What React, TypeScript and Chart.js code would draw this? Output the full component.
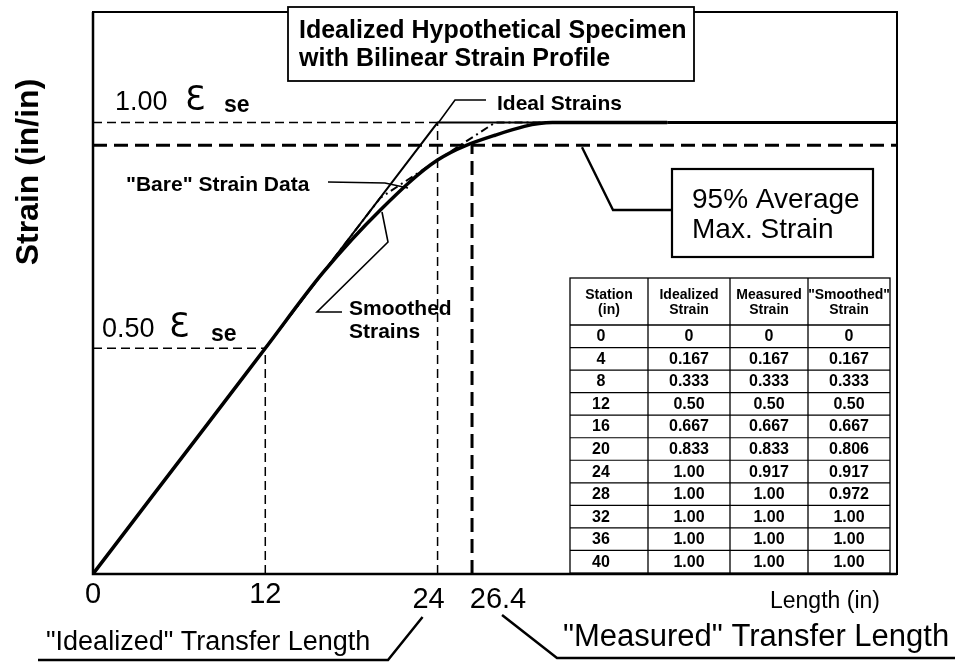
import React, { useEffect, useRef } from "react";
import { Chart, registerables } from "chart.js";

Chart.register(...registerables);

// ---- data (from the reference table) ----
const stations = [0, 4, 8, 12, 16, 20, 24, 28, 32, 36, 40];
const idealizedStrain = [0, 0.167, 0.333, 0.5, 0.667, 0.833, 1.0, 1.0, 1.0, 1.0, 1.0];
const measuredStrain = [0, 0.167, 0.333, 0.5, 0.667, 0.833, 0.917, 1.0, 1.0, 1.0, 1.0];
const smoothedStrain = [0, 0.167, 0.333, 0.5, 0.667, 0.806, 0.917, 0.972, 1.0, 1.0, 1.0];

const tableHeaders = [
  ["Station", "(in)"],
  ["Idealized", "Strain"],
  ["Measured", "Strain"],
  ['"Smoothed"', "Strain"],
];

// x-axis tick values / labels
const xTickValues = [0, 12, 24, 26.4];
const xTickLabels = ["0", "12", "24", "26.4"];

// reference levels
const HALF_LENGTH = 12;
const IDEAL_TRANSFER = 24;
const MEASURED_TRANSFER = 26.4;
const FULL_STRAIN = 1.0;
const HALF_STRAIN = 0.5;
const AVG_MAX_95 = 0.95;

const X_MAX = 56;
const Y_MAX = 1.245;

const FAM = '"Liberation Sans", Arial, Helvetica, sans-serif';
const EPS_FONT = '33px "DejaVu Sans", sans-serif';

function fmt(v: number): string {
  if (v === 0) return "0";
  return Math.round(v * 1000) % 10 === 0 ? v.toFixed(2) : v.toFixed(3);
}

const annotPlugin = {
  id: "annot",
  beforeDatasetsDraw(chart: any) {
    const { ctx, chartArea: a, scales } = chart;
    const px = (v: number) => scales.x.getPixelForValue(v);
    const py = (v: number) => scales.y.getPixelForValue(v);
    const seg = (x1: number, y1: number, x2: number, y2: number) => {
      ctx.beginPath();
      ctx.moveTo(x1, y1);
      ctx.lineTo(x2, y2);
      ctx.stroke();
    };
    ctx.save();
    ctx.strokeStyle = "#000";
    // thin dashed guides
    ctx.lineWidth = 1.5;
    ctx.setLineDash([9, 5]);
    seg(px(0), py(FULL_STRAIN), px(IDEAL_TRANSFER), py(FULL_STRAIN));
    seg(px(0), py(HALF_STRAIN), px(HALF_LENGTH), py(HALF_STRAIN));
    seg(px(HALF_LENGTH), py(0), px(HALF_LENGTH), py(HALF_STRAIN));
    seg(px(IDEAL_TRANSFER), py(0), px(IDEAL_TRANSFER), py(FULL_STRAIN));
    // thick dashed guides
    ctx.lineWidth = 3;
    ctx.setLineDash([14, 7]);
    seg(px(0), py(AVG_MAX_95), a.right, py(AVG_MAX_95));
    seg(px(MEASURED_TRANSFER), py(0), px(MEASURED_TRANSFER), py(AVG_MAX_95));
    // plateau continuation of the strain profile to the end of the axis
    ctx.setLineDash([]);
    ctx.lineWidth = 3;
    const last = stations.length - 1;
    seg(px(stations[last]), py(idealizedStrain[last]), a.right, py(idealizedStrain[last]));
    ctx.restore();
  },
  afterDatasetsDraw(chart: any) {
    const { ctx, chartArea: a, scales } = chart;
    const px = (v: number) => scales.x.getPixelForValue(v);
    const py = (v: number) => scales.y.getPixelForValue(v);
    const poly = (pts: number[][], w: number) => {
      ctx.lineWidth = w;
      ctx.beginPath();
      ctx.moveTo(pts[0][0], pts[0][1]);
      for (let i = 1; i < pts.length; i++) ctx.lineTo(pts[i][0], pts[i][1]);
      ctx.stroke();
    };
    const txt = (s: string, x: number, y: number, font: string, align: CanvasTextAlign = "left") => {
      ctx.font = font;
      ctx.textAlign = align;
      ctx.textBaseline = "alphabetic";
      ctx.fillText(s, x, y);
    };
    ctx.save();
    ctx.strokeStyle = "#000";
    ctx.fillStyle = "#000";
    ctx.setLineDash([]);

    // plot frame
    ctx.lineWidth = 2;
    ctx.strokeRect(a.left, a.top, a.right - a.left, a.bottom - a.top);
    ctx.lineWidth = 2.5;
    ctx.beginPath();
    ctx.moveTo(a.left, a.top);
    ctx.lineTo(a.left, a.bottom);
    ctx.lineTo(a.right, a.bottom);
    ctx.stroke();

    // title box
    ctx.fillStyle = "#fff";
    ctx.fillRect(288, 7, 406, 74);
    ctx.fillStyle = "#000";
    ctx.lineWidth = 1.8;
    ctx.strokeRect(288, 7, 406, 74);
    txt("Idealized Hypothetical Specimen", 299, 38, `bold 25px ${FAM}`);
    txt("with Bilinear Strain Profile", 299, 66, `bold 25px ${FAM}`);

    // y axis title
    ctx.save();
    ctx.translate(38, 172);
    ctx.rotate(-Math.PI / 2);
    txt("Strain (in/in)", 0, 0, `bold 32px ${FAM}`, "center");
    ctx.restore();

    // strain level labels
    const yFull = py(FULL_STRAIN);
    txt("1.00", 115, yFull - 13, `27px ${FAM}`);
    txt("\u0190", 185, yFull - 13, EPS_FONT);
    txt("se", 224, yFull - 11, `bold 23px ${FAM}`);
    const yHalf = py(HALF_STRAIN);
    txt("0.50", 102, yHalf - 11, `27px ${FAM}`);
    txt("\u0190", 169, yHalf - 11, EPS_FONT);
    txt("se", 211, yHalf - 7, `bold 23px ${FAM}`);

    // x tick labels
    const tickDy = [29, 29, 34, 34];
    const tickDx = [0, 0, -9, 26];
    xTickValues.forEach((v, i) => {
      txt(xTickLabels[i], px(v) + tickDx[i], a.bottom + tickDy[i], `29px ${FAM}`, "center");
    });
    txt("Length (in)", 770, a.bottom + 34, `23px ${FAM}`);

    // transfer length callouts
    const x24 = px(IDEAL_TRANSFER);
    const x264 = px(MEASURED_TRANSFER);
    txt('"Idealized" Transfer Length', 46, 650, `27px ${FAM}`);
    poly([[38, 660], [388, 660], [x24 - 15, 617]], 2.5);
    txt('"Measured" Transfer Length', 563, 646, `31px ${FAM}`);
    poly([[x264 + 30, 615], [557, 658], [955, 658]], 2.5);

    // Ideal Strains label
    txt("Ideal Strains", 497, 110, `bold 21px ${FAM}`);
    poly([[486, 100], [455, 100], [px(IDEAL_TRANSFER) + 1, py(FULL_STRAIN)]], 1.6);

    // Bare strain data label
    txt('"Bare" Strain Data', 126, 191, `bold 21px ${FAM}`);
    poly([[328, 182], [385, 183], [408, 188]], 1.6);

    // Smoothed strains label
    txt("Smoothed", 349, 315, `bold 21px ${FAM}`);
    txt("Strains", 349, 338, `bold 21px ${FAM}`);
    poly([[342, 312], [317, 312], [388, 242], [382, 212]], 1.6);

    // 95% box
    ctx.lineWidth = 2.2;
    ctx.fillStyle = "#fff";
    ctx.fillRect(672, 169, 201, 88);
    ctx.fillStyle = "#000";
    ctx.strokeRect(672, 169, 201, 88);
    txt("95% Average", 692, 208, `28px ${FAM}`);
    txt("Max. Strain", 692, 238, `28px ${FAM}`);
    poly([[672, 210], [613, 210], [582, py(AVG_MAX_95) + 2]], 2.4);

    // data table
    const cols = [570, 648, 730, 808, 890];
    const tTop = 278;
    const hBottom = 325;
    const tBottom = a.bottom - 1;
    const rowH = (tBottom - hBottom) / stations.length;
    ctx.fillStyle = "#fff";
    ctx.fillRect(cols[0], tTop, cols[4] - cols[0], tBottom - tTop);
    ctx.fillStyle = "#000";
    ctx.lineWidth = 1.3;
    ctx.strokeRect(cols[0], tTop, cols[4] - cols[0], tBottom - tTop);
    for (let c = 1; c < cols.length - 1; c++) {
      ctx.beginPath();
      ctx.moveTo(cols[c], tTop);
      ctx.lineTo(cols[c], tBottom);
      ctx.stroke();
    }
    for (let r = 0; r < stations.length; r++) {
      const yy = hBottom + r * rowH;
      ctx.lineWidth = r === 0 ? 1.6 : 1.2;
      ctx.beginPath();
      ctx.moveTo(cols[0], yy);
      ctx.lineTo(cols[4], yy);
      ctx.stroke();
    }
    tableHeaders.forEach((h, c) => {
      const cx = (cols[c] + cols[c + 1]) / 2;
      txt(h[0], cx, 299, `bold 14px ${FAM}`, "center");
      txt(h[1], cx, 314, `bold 14px ${FAM}`, "center");
    });
    stations.forEach((s, r) => {
      const yy = hBottom + r * rowH + rowH / 2 + 5;
      const vals = [String(s), fmt(idealizedStrain[r]), fmt(measuredStrain[r]), fmt(smoothedStrain[r])];
      vals.forEach((v, c) => {
        const cx = (cols[c] + cols[c + 1]) / 2;
        txt(v, c === 0 ? cx - 8 : cx, yy, `bold 16px ${FAM}`, "center");
      });
    });

    ctx.restore();
  },
};

export default function App() {
  const ref = useRef<HTMLCanvasElement | null>(null);
  useEffect(() => {
    if (!ref.current) return;
    const pts = (ys: number[]) => stations.map((x, i) => ({ x, y: ys[i] }));
    const chart = new Chart(ref.current, {
      type: "line",
      data: {
        datasets: [
          {
            label: "Ideal Strains",
            data: pts(idealizedStrain),
            borderColor: "#000",
            borderWidth: 2,
            pointRadius: 0,
            tension: 0,
          },
          {
            label: '"Bare" Strain Data',
            data: pts(measuredStrain),
            borderColor: "#000",
            borderWidth: 2,
            borderDash: [8, 4, 2, 4],
            pointRadius: 0,
            tension: 0,
          },
          {
            label: "Smoothed Strains",
            data: pts(smoothedStrain),
            borderColor: "#000",
            borderWidth: 3.5,
            pointRadius: 0,
            cubicInterpolationMode: "monotone",
          },
        ],
      },
      options: {
        responsive: false,
        animation: false,
        events: [],
        layout: { padding: { left: 93, right: 62, top: 12, bottom: 88 } },
        plugins: { legend: { display: false }, tooltip: { enabled: false }, title: { display: false } },
        scales: {
          x: { type: "linear", min: 0, max: X_MAX, display: false },
          y: { type: "linear", min: 0, max: Y_MAX, display: false },
        },
      },
      plugins: [annotPlugin],
    } as any);
    return () => chart.destroy();
  }, []);
  return (
    <div style={{ position: "fixed", left: 0, top: 0, width: 959, height: 662, background: "#fff" }}>
      <canvas ref={ref} width={959} height={662} style={{ width: 959, height: 662, display: "block" }} />
    </div>
  );
}
